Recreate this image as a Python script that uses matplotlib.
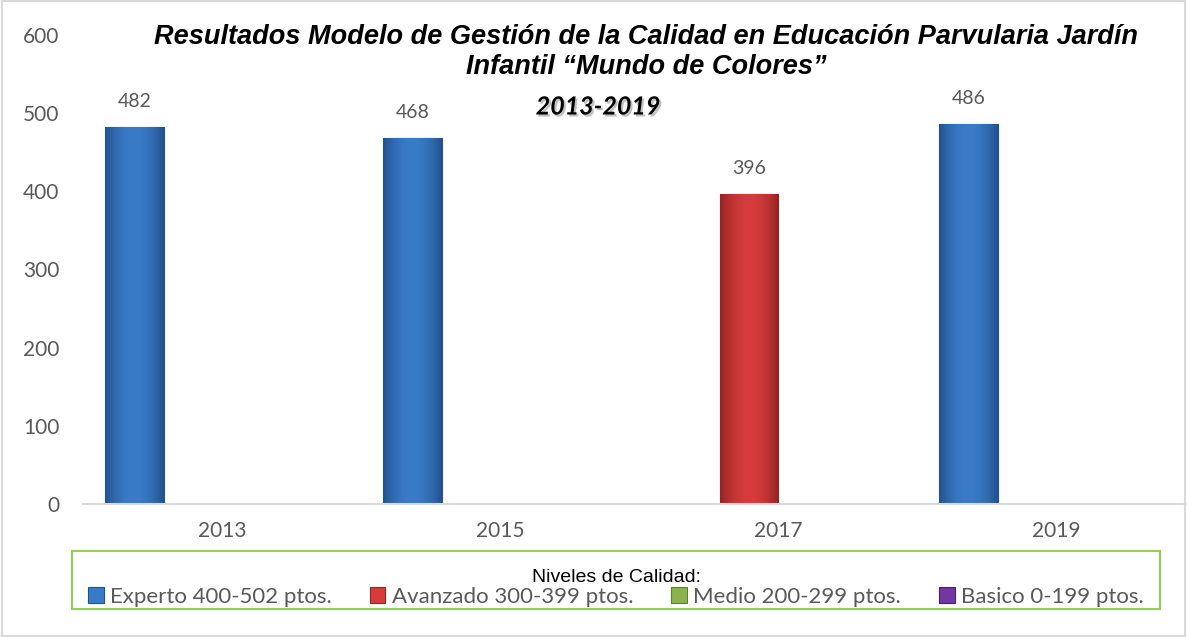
import matplotlib.pyplot as plt
import matplotlib.patheffects as pe
from matplotlib.patches import Rectangle
import numpy as np

# Resultados por año y nivel de calidad
anios = ["2013", "2015", "2017", "2019"]
niveles = ["Experto 400-502 ptos.", "Avanzado 300-399 ptos.",
           "Medio 200-299 ptos.", "Basico 0-199 ptos."]
experto = [482, 468, 0, 486]
avanzado = [0, 0, 396, 0]
medio = [0, 0, 0, 0]
basico = [0, 0, 0, 0]
series = [experto, avanzado, medio, basico]

colores = ["#3a7bc8", "#d63c3c", "#8bb34b", "#7038a0"]
bordes = ["#22528f", "#962222", "#5e7f2c", "#4a2170"]

fig = plt.figure(figsize=(11.87, 6.37), dpi=100)
ax = fig.add_axes([83 / 1187, 0.209, 1112 / 1187, 0.736])

x = np.arange(len(anios))
w = 0.21
barras = []
for i, (vals, nombre) in enumerate(zip(series, niveles)):
    b = ax.bar(x + (i - 1.5) * w, vals, w, color=colores[i], edgecolor=bordes[i],
               linewidth=0.8, label=nombre, zorder=2)
    barras.append(b)
    # degradado dentro de cada barra
    c1 = np.array(plt.matplotlib.colors.to_rgb(colores[i]))
    c2 = np.array(plt.matplotlib.colors.to_rgb(bordes[i]))
    t = np.abs(np.linspace(-1, 1, 60)) ** 2
    grad = (c1[None, :] * (1 - t[:, None]) + c2[None, :] * t[:, None])[None, :, :]
    for rect, v in zip(b, vals):
        if v <= 0:
            continue
        im = ax.imshow(grad, extent=[rect.get_x(), rect.get_x() + rect.get_width(), 0, v],
                       aspect="auto", zorder=2.5)
        im.set_clip_path(rect)
        ax.text(rect.get_x() + rect.get_width() / 2, v + 22, str(v), ha="center", va="bottom",
                fontsize=14, color="#595959", family="Lato")

ax.set_xlim(-0.5, len(anios) - 0.5)
ax.set_ylim(0, 600)
ax.set_yticks(range(0, 601, 100))
ax.set_xticks(x)
ax.set_xticklabels(anios)
ax.tick_params(length=0, labelsize=15, labelcolor="#595959", pad=12)
ax.tick_params(axis="y", pad=17)
for lab in ax.get_xticklabels() + ax.get_yticklabels():
    lab.set_family("Lato")
for s in ["left", "top", "right"]:
    ax.spines[s].set_visible(False)
ax.spines["bottom"].set_color("#d9d9d9")
ax.spines["bottom"].set_linewidth(1.5)

fig.text(646 / 1187, 1 - 52 / 637,
         "Resultados Modelo de Gestión de la Calidad en Educación Parvularia Jardín\nInfantil “Mundo de Colores”",
         ha="center", va="center", fontsize=19.5, fontweight="bold", style="italic",
         family="Liberation Sans", linespacing=1.15)
fig.text(598 / 1187, 1 - 107 / 637, "2013-2019", ha="center", va="center", fontsize=18,
         fontweight="bold", style="italic", family="Lato",
         path_effects=[pe.withSimplePatchShadow(offset=(1.5, -1.5), shadow_rgbFace="#9a9a9a", alpha=0.6)])

# marco verde de la leyenda
fig.patches.append(Rectangle((72 / 1187, 28 / 637), 1088 / 1187, 58 / 637,
                             transform=fig.transFigure, fill=False,
                             edgecolor="#92d050", linewidth=1.5))
leg = fig.legend(handles=barras, labels=niveles, loc="lower left", ncol=4, mode="expand",
                 bbox_to_anchor=(78 / 1187, 20 / 637, 1076 / 1187, 58 / 637),
                 borderaxespad=0, title="Niveles de Calidad:", frameon=False,
                 handlelength=0.7, handleheight=0.7, handletextpad=0.3,
                 borderpad=0.45, labelspacing=0.1,
                 prop={"family": "Lato", "size": 16},
                 title_fontproperties={"family": "Liberation Sans", "size": 14})
leg._legend_box.sep = 1
for t in leg.get_texts():
    t.set_color("#595959")

fig.patches.append(Rectangle((0.002, 0.002), 0.996, 0.996, transform=fig.transFigure,
                             fill=False, edgecolor="#d9d9d9", linewidth=1.5))

fig.savefig("out.png", dpi=100)
